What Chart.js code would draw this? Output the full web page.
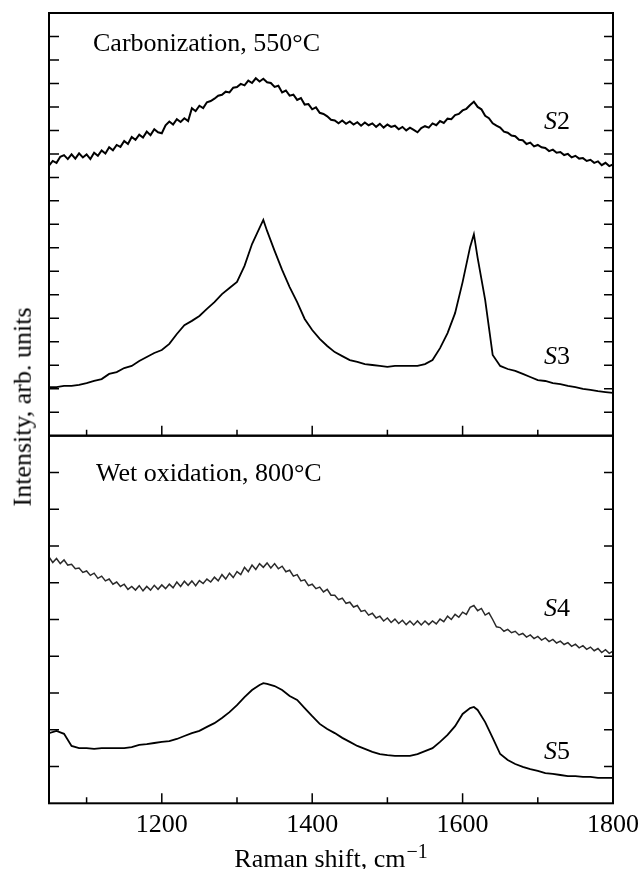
<!DOCTYPE html>
<html lang="en">
<head>
<meta charset="UTF-8">
<title>Raman spectra S2-S5</title>
<style>
  body { margin: 0; background: #fff; }
  #wrap { position: relative; width: 641px; height: 869px; overflow: hidden; background: #fff; }
  #topChart { position: absolute; left: 0; top: 0; }
  #botChart { position: absolute; left: 0; top: 430px; }
  #ytitle {
    position: absolute; left: 0; top: 0;
    font: 26px "Liberation Serif", "Times New Roman", serif;
    line-height: 26px; white-space: nowrap; color: #000;
    transform-origin: 0 0;
    transform: translate(31.5px, 407px) rotate(-90deg) translate(-50%, -21.8px);
  }
</style>
</head>
<body>
<div id="wrap">
  <canvas id="topChart" width="641" height="440"></canvas>
  <canvas id="botChart" width="641" height="439"></canvas>
  <div id="ytitle">Intensity, arb. units</div>
</div>

<script src="https://cdn.jsdelivr.net/npm/chart.js"></script>
<script>
// Raman shift (cm^-1) for the smoother spectra S3, S5
const shift = [1050,1060,1070,1080,1090,1100,1110,1120,1130,1140,1150,1160,1170,1180,1190,
  1200,1210,1220,1230,1240,1250,1260,1270,1280,1290,1300,1310,1320,1330,1335,1340,1350,
  1360,1370,1380,1390,1400,1410,1420,1430,1440,1450,1460,1470,1480,1490,1500,1510,1520,
  1530,1540,1550,1560,1570,1580,1590,1600,1610,1615,1620,1630,1640,1650,1660,1670,1680,
  1690,1700,1710,1720,1730,1740,1750,1760,1770,1780,1790,1800];

// finer Raman shift grid for the noisy spectra S2, S4
const shiftFine = [
  1050,1055,1060,1065,1070,1075,1080,1085,1090,1095,
  1100,1105,1110,1115,1120,1125,1130,1135,1140,1145,
  1150,1155,1160,1165,1170,1175,1180,1185,1190,1195,
  1200,1205,1210,1215,1220,1225,1230,1235,1240,1245,
  1250,1255,1260,1265,1270,1275,1280,1285,1290,1295,
  1300,1305,1310,1315,1320,1325,1330,1335,1340,1345,
  1350,1355,1360,1365,1370,1375,1380,1385,1390,1395,
  1400,1405,1410,1415,1420,1425,1430,1435,1440,1445,
  1450,1455,1460,1465,1470,1475,1480,1485,1490,1495,
  1500,1505,1510,1515,1520,1525,1530,1535,1540,1545,
  1550,1555,1560,1565,1570,1575,1580,1585,1590,1595,
  1600,1605,1610,1615,1620,1625,1630,1635,1640,1645,
  1650,1655,1660,1665,1670,1675,1680,1685,1690,1695,
  1700,1705,1710,1715,1720,1725,1730,1735,1740,1745,
  1750,1755,1760,1765,1770,1775,1780,1785,1790,1795,
  1800];

// top panel (carbonization, 550 C), arb. units
const s2 = [
  11.50,11.70,11.62,11.88,11.95,11.78,11.98,11.80,12.02,11.85,
  11.98,11.78,12.05,11.92,12.15,12.02,12.28,12.15,12.38,12.30,
  12.55,12.42,12.72,12.60,12.82,12.70,12.95,12.80,13.05,12.92,
  12.88,13.22,13.38,13.25,13.48,13.36,13.52,13.40,13.95,13.82,
  14.05,13.95,14.20,14.25,14.35,14.48,14.52,14.65,14.62,14.82,
  14.85,14.98,14.92,15.12,15.02,15.22,15.08,15.20,15.05,15.02,
  14.85,14.90,14.62,14.70,14.48,14.52,14.30,14.38,14.10,14.12,
  13.90,13.98,13.75,13.70,13.60,13.45,13.42,13.30,13.42,13.28,
  13.38,13.25,13.35,13.20,13.34,13.22,13.30,13.15,13.28,13.12,
  13.25,13.15,13.20,13.05,13.15,13.00,13.12,13.02,12.92,13.10,
  13.18,13.12,13.30,13.22,13.40,13.32,13.50,13.48,13.65,13.70,
  13.85,13.92,14.08,14.22,14.00,13.90,13.62,13.52,13.30,13.20,
  13.12,12.95,12.90,12.78,12.75,12.60,12.58,12.42,12.48,12.32,
  12.38,12.28,12.25,12.12,12.18,12.05,12.08,11.95,12.00,11.85,
  11.92,11.80,11.82,11.70,11.75,11.62,11.68,11.52,11.62,11.48,
  11.55];
const s3 = [2.07,2.07,2.12,2.12,2.16,2.24,2.33,2.41,2.63,2.71,2.88,2.97,3.18,3.35,3.52,
  3.65,3.91,4.33,4.71,4.89,5.10,5.40,5.69,6.03,6.29,6.55,7.23,8.16,8.85,9.19,8.72,7.87,
  7.06,6.33,5.69,4.97,4.50,4.12,3.82,3.56,3.39,3.22,3.14,3.05,3.01,2.97,2.93,2.97,2.97,
  2.97,2.97,3.05,3.22,3.73,4.37,5.22,6.54,8.04,8.58,7.57,5.78,3.44,2.97,2.84,2.76,2.63,
  2.50,2.37,2.33,2.24,2.20,2.12,2.07,1.99,1.95,1.90,1.86,1.82];

// bottom panel (wet oxidation, 800 C), arb. units
const s4 = [
  6.70,6.55,6.66,6.52,6.62,6.48,6.50,6.38,6.40,6.28,
  6.32,6.20,6.26,6.12,6.18,6.05,6.10,5.96,6.02,5.90,
  5.96,5.82,5.90,5.80,5.92,5.78,5.90,5.80,5.93,5.82,
  5.94,5.84,5.96,5.86,6.02,5.90,6.04,5.93,6.05,5.92,
  6.06,5.98,6.10,6.02,6.15,6.05,6.22,6.10,6.26,6.14,
  6.30,6.22,6.42,6.30,6.48,6.36,6.52,6.42,6.54,6.40,
  6.52,6.38,6.45,6.30,6.34,6.18,6.22,6.05,6.08,5.92,
  5.96,5.84,5.88,5.75,5.82,5.66,5.66,5.54,5.58,5.44,
  5.47,5.34,5.38,5.22,5.25,5.12,5.17,5.04,5.09,4.96,
  5.04,4.92,5.01,4.89,4.98,4.86,4.96,4.85,4.96,4.85,
  4.96,4.86,4.96,4.88,5.01,4.94,5.09,5.00,5.14,5.06,
  5.20,5.14,5.33,5.38,5.24,5.30,5.12,5.18,5.00,4.80,
  4.78,4.68,4.73,4.64,4.68,4.58,4.62,4.52,4.58,4.48,
  4.54,4.44,4.50,4.40,4.46,4.36,4.41,4.32,4.37,4.27,
  4.33,4.23,4.29,4.19,4.25,4.15,4.21,4.10,4.18,4.08,
  4.14];
const s5 = [1.91,1.97,1.89,1.56,1.50,1.50,1.48,1.50,1.50,1.50,1.50,1.53,1.59,1.61,1.64,
  1.67,1.69,1.75,1.83,1.91,1.97,2.08,2.18,2.32,2.48,2.67,2.89,3.08,3.22,3.27,3.25,3.19,
  3.08,2.92,2.81,2.59,2.37,2.16,2.02,1.91,1.78,1.67,1.56,1.48,1.40,1.34,1.31,1.29,1.29,
  1.29,1.34,1.42,1.50,1.67,1.86,2.10,2.43,2.59,2.62,2.54,2.21,1.78,1.34,1.18,1.07,0.99,
  0.93,0.88,0.82,0.80,0.77,0.74,0.74,0.72,0.72,0.69,0.69,0.69];

const xMajor = [1200, 1400, 1600, 1800];
const xMinor = [1100, 1300, 1500, 1700];

const serif = '"Liberation Serif", "Times New Roman", serif';

function series(xs, vals, width, color) {
  return {
    data: xs.map((x, i) => ({ x: x, y: vals[i] })),
    borderColor: color, borderWidth: width,
    pointRadius: 0, tension: 0, fill: false
  };
}

// frame, inward ticks and in-plot labels
const framePlugin = {
  id: 'frame',
  afterDatasetsDraw(chart, args, opts) {
    const { ctx, chartArea: a } = chart;
    const x = chart.scales.x, y = chart.scales.y;
    ctx.save();
    ctx.strokeStyle = '#000';
    ctx.lineWidth = 1.5;
    ctx.beginPath();
    y.ticks.forEach(t => {
      if (t.value <= y.min || t.value >= y.max) return;
      const py = y.getPixelForValue(t.value);
      ctx.moveTo(a.left, py); ctx.lineTo(a.left + 10, py);
      ctx.moveTo(a.right - 9, py); ctx.lineTo(a.right, py);
    });
    xMajor.concat(xMinor).forEach(v => {
      if (v <= x.min || v >= x.max) return;
      const px = x.getPixelForValue(v);
      const len = xMajor.includes(v) ? 10 : 6;
      ctx.moveTo(px, a.bottom); ctx.lineTo(px, a.bottom - len);
    });
    ctx.stroke();
    ctx.lineWidth = 2;
    ctx.strokeRect(a.left, a.top, a.right - a.left, a.bottom - a.top);

    ctx.fillStyle = '#000';
    ctx.textBaseline = 'alphabetic';
    ctx.textAlign = 'left';
    ctx.font = '26px ' + serif;
    ctx.fillText(opts.title, opts.titleX, opts.titleY);
    opts.labels.forEach(l => {
      ctx.font = 'italic 26px ' + serif;
      ctx.fillText('S', l.x, l.y);
      const w = ctx.measureText('S').width;
      ctx.font = '26px ' + serif;
      ctx.fillText(l.n, l.x + w, l.y);
    });
    if (opts.xTitle) {
      ctx.font = '26px ' + serif;
      const main = 'Raman shift, cm';
      const mw = ctx.measureText(main).width;
      ctx.font = '20px ' + serif;
      const sw = ctx.measureText('\u22121').width;
      const cx = (a.left + a.right) / 2;
      const x0 = cx - (mw + sw + 1) / 2;
      ctx.font = '26px ' + serif;
      ctx.fillText(main, x0, opts.xTitleY);
      ctx.font = '20px ' + serif;
      ctx.fillText('\u22121', x0 + mw + 1, opts.xTitleY - 9);
    }
    ctx.restore();
  }
};

function baseOptions(yMax, pad, frameOpts, showX) {
  return {
    responsive: false,
    animation: false,
    events: [],
    layout: { padding: pad },
    plugins: { legend: { display: false }, tooltip: { enabled: false }, frame: frameOpts },
    scales: {
      x: {
        type: 'linear', min: 1050, max: 1800,
        display: showX,
        afterBuildTicks: s => { s.ticks = xMajor.map(v => ({ value: v })); },
        afterFit: s => {
          if (!showX) return;
          s.height = 40;
          s.paddingLeft = 0;
          s.paddingRight = 0;
        },
        grid: { display: false, drawTicks: false },
        border: { display: false },
        ticks: {
          color: '#000', padding: 6, maxRotation: 0, autoSkip: false,
          font: { family: serif, size: 26 },
          callback: v => String(v)
        }
      },
      y: {
        type: 'linear', min: 0, max: yMax, display: false,
        ticks: { stepSize: 1 }
      }
    }
  };
}

new Chart(document.getElementById('topChart'), {
  type: 'line',
  data: { datasets: [series(shiftFine, s2, 2.0, '#000'), series(shift, s3, 1.8, '#000')] },
  options: baseOptions(18, { left: 49, right: 28, top: 13, bottom: 4.3 }, {
    title: 'Carbonization, 550\u00B0C', titleX: 93, titleY: 51,
    labels: [{ n: '2', x: 544, y: 129 }, { n: '3', x: 544, y: 364 }]
  }, false),
  plugins: [framePlugin]
});

new Chart(document.getElementById('botChart'), {
  type: 'line',
  data: { datasets: [series(shiftFine, s4, 1.5, '#2a2a2a'), series(shift, s5, 1.8, '#000')] },
  options: baseOptions(10, { left: 49, right: 28, top: 5.7, bottom: 25.7 }, {
    title: 'Wet oxidation, 800\u00B0C', titleX: 96, titleY: 51,
    labels: [{ n: '4', x: 544, y: 186 }, { n: '5', x: 544, y: 329 }],
    xTitle: true, xTitleY: 436.5
  }, true),
  plugins: [framePlugin]
});
</script>
</body>
</html>
